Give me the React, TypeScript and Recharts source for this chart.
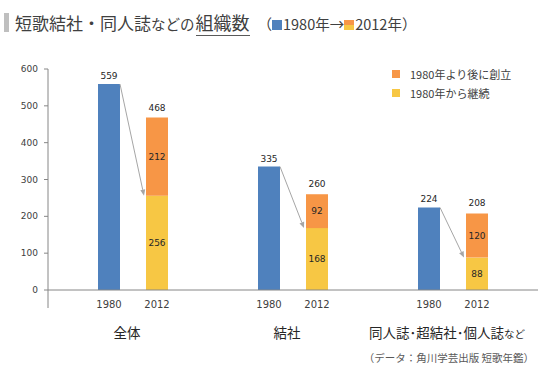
import React from 'react';
import { BarChart, Bar, XAxis, YAxis, LabelList, Legend } from 'recharts';

const groups = ['全体', '結社', '同人誌・超結社・個人誌など'];
const years = ['1980', '2012'];
const count1980 = [559, 335, 224];
const continued = [256, 168, 88];
const founded = [212, 92, 120];
const yTicks = [0, 100, 200, 300, 400, 500, 600];

const BLUE = '#4F81BD';
const ORANGE = '#F79646';
const YELLOW = '#F7C744';
const AXIS = '#868686';
const TEXT = '#404040';
const NUM_FONT = '"DejaVu Sans", Verdana, sans-serif';
const JP_FONT = '"Noto Sans CJK JP", "Noto Sans", sans-serif';
const BAR_SIZE = 22;
const BAR_GAP = 26;

const data = groups.map((g, i) => ({
  group: g,
  y1980: count1980[i],
  cont: continued[i],
  founded: founded[i],
  total: continued[i] + founded[i],
}));

const GroupTick = ({ x, y, payload }: any) => {
  const half = (BAR_SIZE + BAR_GAP) / 2;
  const name: string = payload.value;
  const small = name.endsWith('など');
  // narrow middle dot like the original
  const main = (small ? name.slice(0, -2) : name).replace(/・/g, '･');
  return (
    <g>
      <text x={x - half} y={y + 18} textAnchor="middle" fontSize={10} fontFamily={NUM_FONT} fill={TEXT}>
        {years[0]}
      </text>
      <text x={x + half} y={y + 18} textAnchor="middle" fontSize={10} fontFamily={NUM_FONT} fill={TEXT}>
        {years[1]}
      </text>
      <text x={x - 6} y={y + 48} textAnchor="middle" fontSize={13.5} fontFamily={JP_FONT} fill="#262626">
        {main}
        {small && <tspan fontSize={10.5}>など</tspan>}
      </text>
    </g>
  );
};

const ValueTick = ({ x, y, payload }: any) => (
  <g>
    <text x={x} y={y} dy={3} textAnchor="end" fontSize={9} fontFamily={NUM_FONT} fill={TEXT}>
      {payload.value}
    </text>
    {payload.value === 0 && <line x1={x + 10} y1={y} x2={x + 10} y2={y + 18} stroke={AXIS} />}
  </g>
);

// arrow from the top of the 1980 bar to the top of the "continued" part of 2012
const ArrowLabel = (props: any) => {
  const { x, y, width, height, index, value } = props;
  const k = height / count1980[index];
  const base = y + height;
  const x1 = x + width;
  const y1 = y;
  const x2 = x + width + BAR_GAP - 2;
  const y2 = base - value * k;
  const ang = Math.atan2(y2 - y1, x2 - x1);
  const len = 6;
  const w = 2.5;
  const bx = x2 - len * Math.cos(ang);
  const by = y2 - len * Math.sin(ang);
  const px = -Math.sin(ang) * w;
  const py = Math.cos(ang) * w;
  return (
    <g>
      <line x1={x1} y1={y1} x2={bx} y2={by} stroke="#A6A6A6" strokeWidth={1} />
      <polygon points={`${x2},${y2} ${bx + px},${by + py} ${bx - px},${by - py}`} fill="#A6A6A6" />
    </g>
  );
};

const legendItems = [
  { label: '1980年より後に創立', color: ORANGE },
  { label: '1980年から継続', color: YELLOW },
];

const LegendBox = () => (
  <div style={{ fontFamily: JP_FONT, fontSize: 11, color: TEXT }}>
    {legendItems.map((it) => (
      <div key={it.label} style={{ display: 'flex', alignItems: 'center', height: 19 }}>
        <span style={{ width: 8, height: 8, background: it.color, marginRight: 10, display: 'inline-block' }} />
        <span>{it.label}</span>
      </div>
    ))}
  </div>
);

export default function App() {
  return (
    <div style={{ position: 'absolute', left: 0, top: 0, width: 540, height: 372, background: '#fff', overflow: 'hidden' }}>
      <div style={{ position: 'absolute', left: 4, top: 13, width: 5, height: 19, background: '#BFBFBF' }} />
      <div
        style={{
          position: 'absolute',
          left: 15,
          top: 9,
          fontFamily: JP_FONT,
          color: TEXT,
          whiteSpace: 'nowrap',
          lineHeight: '26px',
          fontSize: 17,
        }}
      >
        短歌結社・同人誌<span style={{ fontSize: 14.5 }}>などの</span>
        <span style={{ fontSize: 18, borderBottom: '1px solid #595959', paddingBottom: 0, marginLeft: 1 }}>組織数</span>
        <span style={{ fontSize: 14.5, marginLeft: 8 }}>
          （<span style={{ display: 'inline-block', width: 10, height: 10, background: BLUE, marginRight: 1 }} />
          1980年→
          <span
            style={{
              display: 'inline-block',
              width: 10,
              height: 10,
              background: `linear-gradient(${ORANGE} 50%, ${YELLOW} 50%)`,
              marginRight: 1,
            }}
          />
          2012年）
        </span>
      </div>

      <BarChart
        width={540}
        height={372}
        data={data}
        margin={{ top: 69, right: 2, left: 0, bottom: 22 }}
        barGap={BAR_GAP}
        barSize={BAR_SIZE}
      >
        <XAxis
          dataKey="group"
          height={60}
          padding={{ left: 5, right: 5 }}
          stroke={AXIS}
          tickLine={false}
          tickSize={0}
          tickMargin={0}
          tick={<GroupTick />}
          interval={0}
        />
        <YAxis
          width={48}
          domain={[0, 600]}
          ticks={yTicks}
          stroke={AXIS}
          tickSize={4}
          tickMargin={6}
          tick={<ValueTick />}
        />
        <Legend
          layout="vertical"
          align="center"
          verticalAlign="middle"
          wrapperStyle={{ left: 392, top: 64, width: 150 }}
          content={<LegendBox />}
        />
        <Bar dataKey="y1980" stackId="a" fill={BLUE} isAnimationActive={false} legendType="none">
          <LabelList dataKey="y1980" position="top" offset={5} fontSize={9} fontFamily={NUM_FONT} fill="#262626" />
          <LabelList dataKey="cont" content={<ArrowLabel />} />
        </Bar>
        <Bar dataKey="cont" stackId="b" fill={YELLOW} isAnimationActive={false}>
          <LabelList dataKey="cont" position="center" fontSize={9} fontFamily={NUM_FONT} fill="#262626" />
        </Bar>
        <Bar dataKey="founded" stackId="b" fill={ORANGE} isAnimationActive={false}>
          <LabelList dataKey="founded" position="center" fontSize={9} fontFamily={NUM_FONT} fill="#262626" />
          <LabelList dataKey="total" position="top" offset={7} fontSize={9} fontFamily={NUM_FONT} fill="#262626" />
        </Bar>
      </BarChart>

      <div
        style={{
          position: 'absolute',
          right: 6,
          top: 350,
          fontFamily: JP_FONT,
          fontSize: 10.5,
          color: '#595959',
          whiteSpace: 'nowrap',
        }}
      >
        （データ：角川学芸出版 短歌年鑑）
      </div>
    </div>
  );
}
